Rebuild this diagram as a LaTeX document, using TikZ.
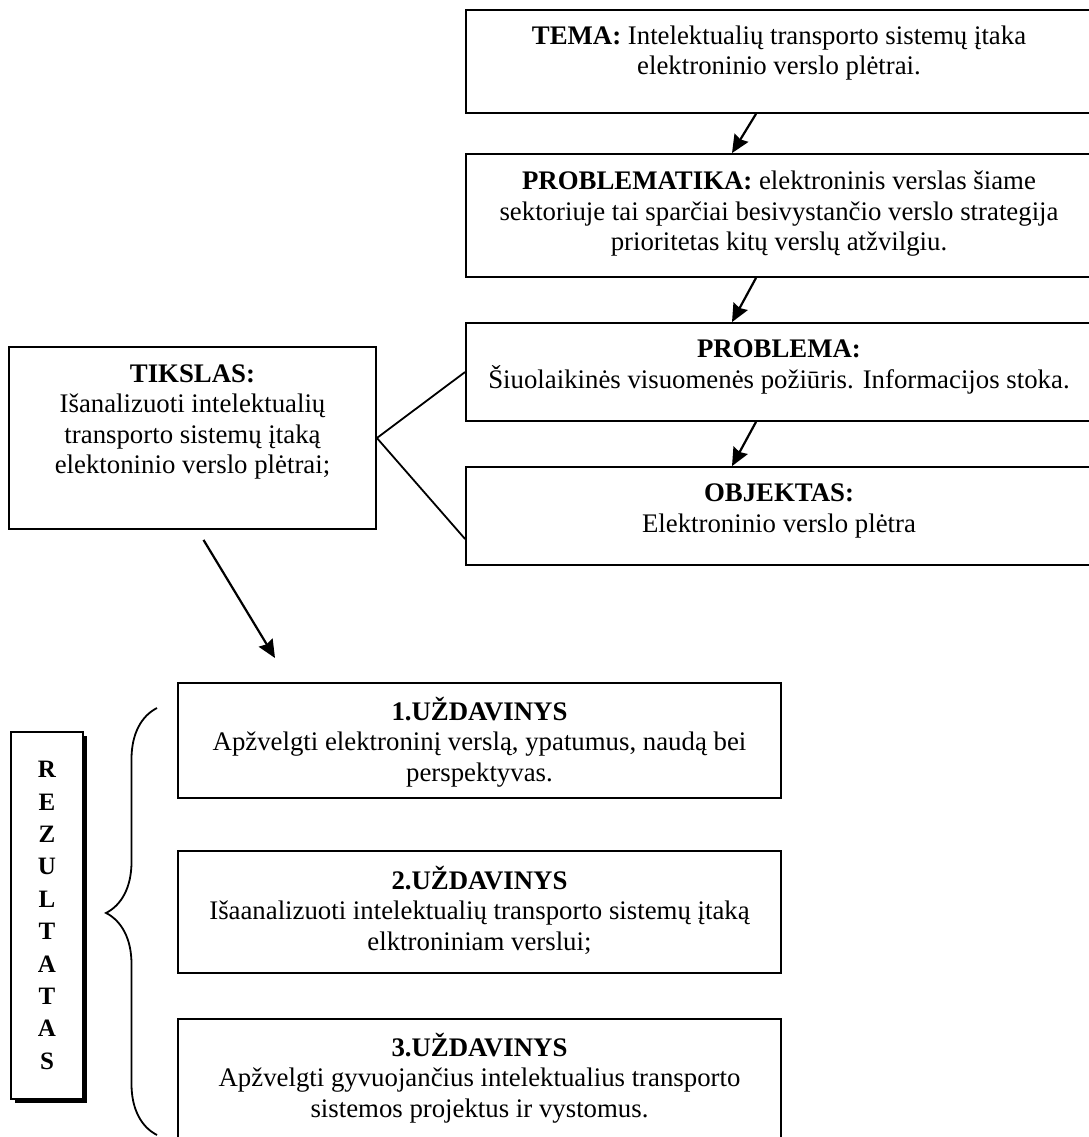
\documentclass[tikz,border=0pt]{standalone}
\usepackage{fontspec}
\setmainfont{Liberation Serif}
\usetikzlibrary{arrows.meta,decorations.pathreplacing,shadows}

\begin{document}
\begin{tikzpicture}%
  [x=1pt,y=-1pt,
   link/.style={line width=2.2pt,-{Stealth[length=18pt,width=16pt,inset=2pt]}}]
  \tikzstyle{box node}=[rectangle,draw,line width=1.8pt,inner sep=0]
  \tikzstyle{txt node}=[align=center,inner sep=0,font=\fontsize{26.8}{30.5}\selectfont]
  \useasboundingbox (0,0) rectangle (1088,1137);
  % right column
  \node(tema)[box node,minimum width=626pt,minimum height=103pt] at (779,61.5){};
  \node(problematika)[box node,minimum width=626pt,minimum height=123pt] at (779,215.5){};
  \node(problema)[box node,minimum width=626pt,minimum height=98pt] at (779,372){};
  \node(objektas)[box node,minimum width=626pt,minimum height=98pt] at (779,516){};
  \node(tematxt)[txt node] at (779,53){\textbf{TEMA:} Intelektualių transporto sistemų įtaka\\
    elektroninio verslo plėtrai.};
  \node(problematikatxt)[txt node] at (779,214){\textbf{PROBLEMATIKA:} elektroninis verslas šiame\\
    sektoriuje tai sparčiai besivystančio verslo strategija\\ prioritetas kitų verslų atžvilgiu.};
  \node(problematxt)[txt node] at (779,367){\textbf{PROBLEMA:}\\
    Šiuolaikinės visuomenės požiūris. Informacijos stoka.};
  \node(objektastxt)[txt node] at (779,511){\textbf{OBJEKTAS:}\\ Elektroninio verslo plėtra};
  \draw[link] ([xshift=-23pt]tema.south) -- ([xshift=-47pt]problematika.north);
  \draw[link] ([xshift=-23pt]problematika.south) -- ([xshift=-47pt]problema.north);
  \draw[link] ([xshift=-23pt]problema.south) -- ([xshift=-47pt]objektas.north);
  % tikslas
  \node(tikslas)[box node,minimum width=367pt,minimum height=182pt] at (192.5,438){};
  \node(tikslastxt)[txt node] at (192.5,422){\textbf{TIKSLAS:}\\ Išanalizuoti intelektualių\\
    transporto sistemų įtaką\\ elektoninio verslo plėtrai;};
  \draw[line width=1.8pt] (problema.west) -- (tikslas.east) -- ([yshift=-23pt]objektas.west);
  \coordinate(tiksend) at (275,658);
  \draw[link] ([xshift=11pt,yshift=-10pt]tikslas.south) -- (tiksend);
  % uzdaviniai
  \node(u1)[box node,minimum width=603pt,minimum height=115pt] at (479.5,740.5){};
  \node(u2)[box node,minimum width=603pt,minimum height=122pt] at (479.5,912){};
  \node(u3)[box node,minimum width=603pt,minimum height=141pt] at (479.5,1089.5){};
  \node(u1txt)[txt node] at (479.5,742){\textbf{1.UŽDAVINYS}\\
    Apžvelgti elektroninį verslą, ypatumus, naudą bei\\ perspektyvas.};
  \node(u2txt)[txt node] at (479.5,910){\textbf{2.UŽDAVINYS}\\
    Išaanalizuoti intelektualių transporto sistemų įtaką\\ elktroniniam verslui;};
  \node(u3txt)[txt node] at (479.5,1078){\textbf{3.UŽDAVINYS}\\
    Apžvelgti gyvuojančius intelektualius transporto\\ sistemos projektus ir vystomus.};
  % rezultatas
  \node(rez)[box node,fill=white,minimum width=72pt,minimum height=367pt,
    drop shadow={fill=black,opacity=1,shadow xshift=4pt,shadow yshift=-4pt},
    align=center,font=\fontsize{25}{32.4}\selectfont\bfseries] at (47,915.5)
    {R\\E\\Z\\U\\L\\T\\A\\T\\A\\S};
  \coordinate(bracetop) at (157,708);
  \coordinate(bracebot) at (157,1135);
  \draw[line width=1.8pt,decorate,decoration={brace,amplitude=51pt,aspect=0.52}]
    (bracebot) -- (bracetop);
\end{tikzpicture}
\end{document}
